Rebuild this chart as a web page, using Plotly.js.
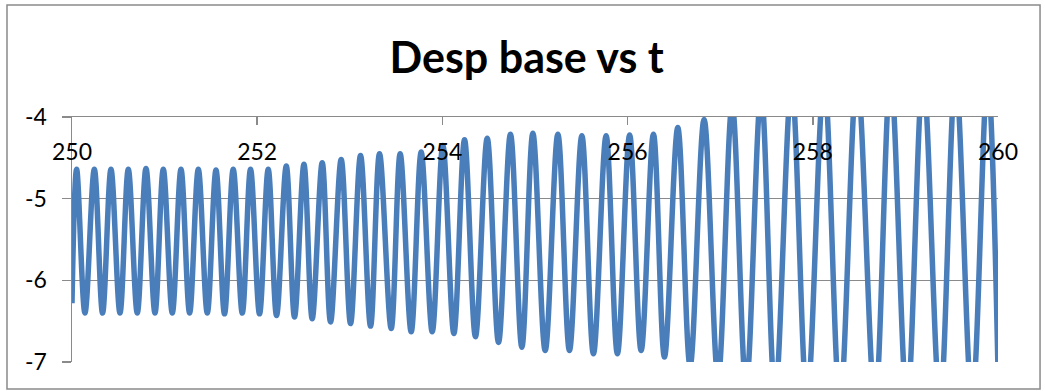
<!DOCTYPE html>
<html>
<head>
<meta charset="utf-8">
<script src="https://cdn.plot.ly/plotly-3.0.1.min.js"></script>
<style>
  html, body { margin: 0; padding: 0; background: #ffffff; }
  #chart { width: 1045px; height: 391px; }
</style>
</head>
<body>
<div id="chart"></div>
<script>
// Time (t) of each turning point (start, alternating peaks / troughs, end)
const t = [
  250.000,
  250.050, 250.140, 250.241, 250.330, 250.421, 250.518, 250.608, 250.705,
  250.799, 250.896, 250.986, 251.083, 251.177, 251.270, 251.364, 251.461,
  251.555, 251.647, 251.741, 251.839, 251.928, 252.025, 252.119, 252.209,
  252.314, 252.403, 252.505, 252.594, 252.702, 252.792, 252.907, 253.008,
  253.116, 253.224, 253.321, 253.447, 253.544, 253.663, 253.771, 253.890,
  254.005, 254.124, 254.239, 254.357, 254.484, 254.606, 254.735, 254.858,
  254.977, 255.110, 255.247, 255.372, 255.506, 255.631, 255.768, 255.890,
  256.022, 256.146, 256.279, 256.398, 256.542, 256.675, 256.826, 256.977,
  257.129, 257.280, 257.442, 257.593, 257.771, 257.938, 258.122, 258.294,
  258.478, 258.672, 258.840, 259.018, 259.191, 259.374, 259.542, 259.720,
  259.887, 260.000
];
// Desp base value at each of those points
const despBase = [
  -6.28,
  -4.64, -6.40, -4.64, -6.40, -4.64, -6.40, -4.64, -6.40,
  -4.63, -6.40, -4.64, -6.40, -4.64, -6.40, -4.64, -6.40,
  -4.65, -6.41, -4.64, -6.40, -4.64, -6.41, -4.64, -6.43,
  -4.60, -6.45, -4.58, -6.47, -4.56, -6.51, -4.52, -6.53,
  -4.47, -6.56, -4.45, -6.59, -4.45, -6.63, -4.43, -6.63,
  -4.35, -6.65, -4.28, -6.69, -4.26, -6.76, -4.21, -6.82,
  -4.20, -6.86, -4.21, -6.86, -4.23, -6.90, -4.23, -6.90,
  -4.22, -6.86, -4.21, -6.94, -4.13, -7.05, -4.03, -7.20,
  -3.85, -7.30, -3.70, -7.40, -3.60, -7.45, -3.55, -7.50,
  -3.50, -7.50, -3.50, -7.50, -3.50, -7.50, -3.50, -7.50,
  -3.50, -7.10
];

const xTickVals = [250, 252, 254, 256, 258, 260];
const xTickText = ['250', '252', '254', '256', '258', '260'];
const yTickVals = [-7, -6, -5, -4];
const yTickText = ['-7', '-6', '-5', '-4'];
const chartTitle = 'Desp base vs t';

const gray = '#8a8a8a';
const font = 'Lato, "Open Sans", sans-serif';

const trace = {
  type: 'scatter',
  mode: 'lines',
  x: t,
  y: despBase,
  line: { color: '#4a7ebb', width: 5.5, shape: 'spline', smoothing: 1 },
  hoverinfo: 'x+y'
};

const layout = {
  width: 1045,
  height: 391,
  paper_bgcolor: '#ffffff',
  plot_bgcolor: '#ffffff',
  showlegend: false,
  margin: { l: 72, r: 47, t: 117, b: 29, pad: 0 },
  title: {
    text: '<b>' + chartTitle + '</b>',
    font: { family: font, size: 43, color: '#000000' },
    xref: 'container', yref: 'container',
    x: 0.504, xanchor: 'center',
    y: 0.853, yanchor: 'middle'
  },
  xaxis: {
    range: [250, 260],
    side: 'top',
    showline: true, linecolor: gray, linewidth: 1.5,
    ticks: 'inside', ticklen: 8, tickcolor: gray, tickwidth: 1.5,
    tickvals: xTickVals, ticktext: xTickText,
    ticklabelposition: 'inside',
    ticklabeloverflow: 'allow',
    ticklabelstandoff: 21,
    showgrid: false, zeroline: false,
    tickfont: { family: font, size: 23, color: '#000000' },
    fixedrange: true
  },
  yaxis: {
    range: [-7, -4],
    showline: true, linecolor: gray, linewidth: 1.5,
    ticks: 'outside', ticklen: 9, tickcolor: gray, tickwidth: 1.5,
    tickvals: yTickVals, ticktext: yTickText,
    ticklabeloverflow: 'allow',
    ticklabelstandoff: 10,
    showgrid: true, gridcolor: gray, gridwidth: 1.5,
    zeroline: false,
    tickfont: { family: font, size: 23, color: '#000000' },
    fixedrange: true
  },
  shapes: [{
    type: 'rect', xref: 'paper', yref: 'paper',
    x0: -0.0702, x1: 1.0454, y0: -0.11, y1: 1.457,
    line: { color: gray, width: 1.5 },
    fillcolor: 'rgba(0,0,0,0)', layer: 'below'
  }]
};

Plotly.newPlot('chart', [trace], layout, { displayModeBar: false, staticPlot: true });
</script>
</body>
</html>
